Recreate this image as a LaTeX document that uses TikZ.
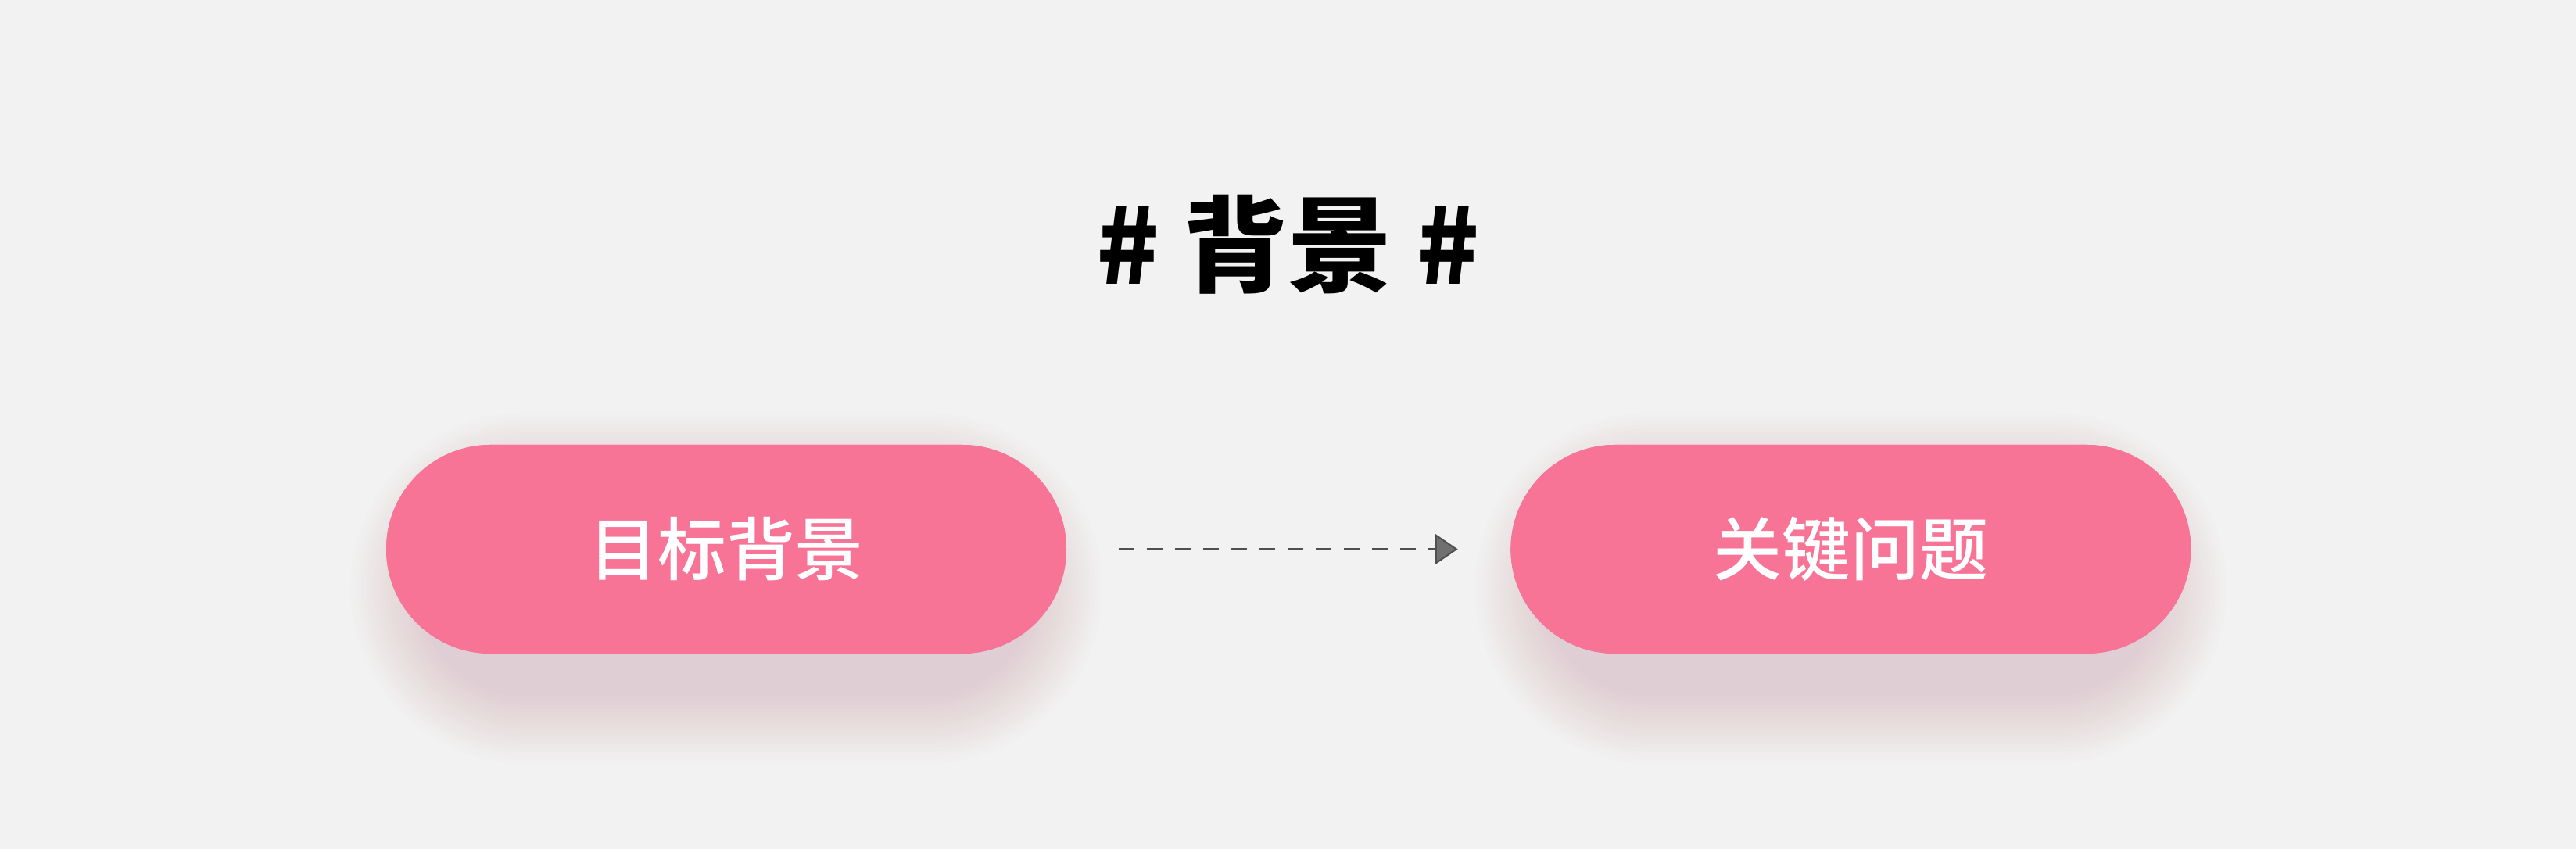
\documentclass[tikz,border=0pt]{standalone}
\usepackage{fontspec}
\newfontfamily\cjk{Noto Sans CJK SC}
\newfontfamily\cjkmed{Noto Sans CJK SC Medium}
\usetikzlibrary{arrows.meta,positioning}

\definecolor{bgcol}{HTML}{F2F2F2}
\definecolor{pillpink}{HTML}{F87497}
\definecolor{shadowpink}{RGB}{210,100,135}
\definecolor{arrowline}{HTML}{505050}
\definecolor{arrowfill}{HTML}{707070}

\tikzset{
  pill/.style={fill=pillpink, rounded corners=1.335cm, minimum width=8.7cm,
    minimum height=2.67cm, inner sep=0pt, text=white,
    font=\cjkmed\fontsize{25}{30}\selectfont},
  pillshadow/.style={fill=shadowpink, fill opacity=0.013},
  flow/.style={arrowline, line width=0.6pt, dash pattern=on 5.7pt off 4.55pt,
    -{Triangle[length=0.29cm,width=0.39cm,fill=arrowfill]}}
}

\begin{document}
\begin{tikzpicture}

  % 背景
  \fill[bgcol] (0,0) rectangle (32.95,10.86);
  \useasboundingbox (0,0) rectangle (32.95,10.86);

  % 标题
  \node[font=\cjk\bfseries\fontsize{38}{46}\selectfont] (title) at (16.475,7.73) {\# 背景 \#};

  % 两个胶囊节点
  \node[pill] (goal) at (9.29,3.835) {目标背景};
  \node[pill, right=5.67cm of goal] (issue) {关键问题};

  % 阴影
  \foreach \n in {goal,issue}{
    \foreach \i in {1,...,18}{
      \pgfmathsetmacro\r{0.05*\i}
      \fill[pillshadow, rounded corners={(1.335+\r)*1cm}]
        ([xshift={(0.45-\r)*1cm}, yshift={(-0.5-\r)*1cm}]\n.south west)
        rectangle ([xshift={(-0.45+\r)*1cm}, yshift={(-0.5+\r)*1cm}]\n.north east);
    }
  }

  % 重画节点盖住阴影
  \node[pill] at (goal) {目标背景};
  \node[pill] at (issue) {关键问题};

  % 虚线箭头
  \draw[flow, shorten <=0.66cm, shorten >=0.67cm] (goal.east) -- (issue.west);

\end{tikzpicture}
\end{document}
